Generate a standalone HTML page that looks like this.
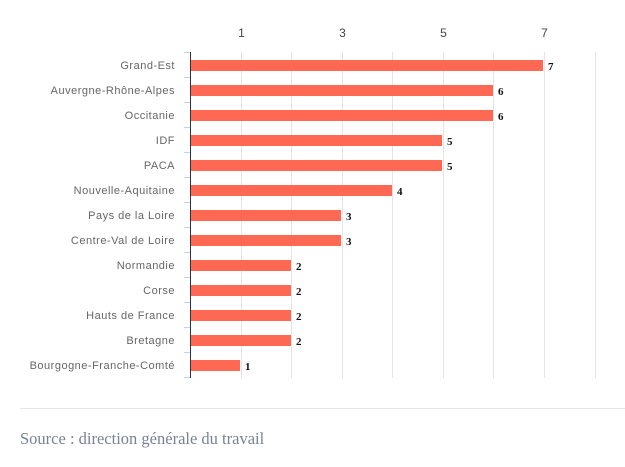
<!DOCTYPE html>
<html><head><meta charset="utf-8"><style>
html,body{margin:0;padding:0;background:#fff;width:625px;height:467px;overflow:hidden}
svg{display:block}
.l{font-family:"Liberation Sans",sans-serif;font-size:11px;fill:#666;letter-spacing:0.5px}
.t{font-family:"Liberation Sans",sans-serif;font-size:12px;fill:#444}
.v{font-family:"Liberation Serif",serif;font-size:11px;font-weight:bold;fill:#111}
</style></head><body>
<svg width="625" height="467" xmlns="http://www.w3.org/2000/svg">
<g stroke="#e4e4e4" stroke-width="1">
<line x1="241.5" y1="52" x2="241.5" y2="378"/><line x1="291.5" y1="52" x2="291.5" y2="378"/>
<line x1="342.5" y1="52" x2="342.5" y2="378"/><line x1="392.5" y1="52" x2="392.5" y2="378"/>
<line x1="443.5" y1="52" x2="443.5" y2="378"/><line x1="493.5" y1="52" x2="493.5" y2="378"/>
<line x1="544.5" y1="52" x2="544.5" y2="378"/><line x1="595.5" y1="52" x2="595.5" y2="378"/>
</g>
<g text-anchor="middle" class="t">
<text x="241.5" y="37">1</text><text x="342.5" y="37">3</text><text x="443.5" y="37">5</text><text x="544.5" y="37">7</text>
</g>
<g stroke="#c5d3e8" stroke-width="1">
<line x1="184" y1="52.5" x2="190" y2="52.5"/><line x1="184" y1="77.5" x2="190" y2="77.5"/><line x1="184" y1="102.5" x2="190" y2="102.5"/><line x1="184" y1="127.5" x2="190" y2="127.5"/><line x1="184" y1="152.5" x2="190" y2="152.5"/><line x1="184" y1="177.5" x2="190" y2="177.5"/><line x1="184" y1="202.5" x2="190" y2="202.5"/><line x1="184" y1="227.5" x2="190" y2="227.5"/><line x1="184" y1="252.5" x2="190" y2="252.5"/><line x1="184" y1="277.5" x2="190" y2="277.5"/><line x1="184" y1="302.5" x2="190" y2="302.5"/><line x1="184" y1="327.5" x2="190" y2="327.5"/><line x1="184" y1="352.5" x2="190" y2="352.5"/><line x1="184" y1="377.5" x2="190" y2="377.5"/>
</g>
<g fill="#ff6852">
<rect x="191" y="60" width="352" height="11"/>
<rect x="191" y="85" width="302" height="11"/>
<rect x="191" y="110" width="302" height="11"/>
<rect x="191" y="135" width="251" height="11"/>
<rect x="191" y="160" width="251" height="11"/>
<rect x="191" y="185" width="201" height="11"/>
<rect x="191" y="210" width="150" height="11"/>
<rect x="191" y="235" width="150" height="11"/>
<rect x="191" y="260" width="100" height="11"/>
<rect x="191" y="285" width="100" height="11"/>
<rect x="191" y="310" width="100" height="11"/>
<rect x="191" y="335" width="100" height="11"/>
<rect x="191" y="360" width="49" height="11"/>
</g>
<line x1="190.5" y1="52" x2="190.5" y2="378" stroke="#2a3542" stroke-width="1"/>
<g class="v">
<text x="548" y="70">7</text><text x="498" y="95">6</text><text x="498" y="120">6</text><text x="447" y="145">5</text><text x="447" y="170">5</text><text x="397" y="195">4</text><text x="346" y="220">3</text><text x="346" y="245">3</text><text x="296" y="270">2</text><text x="296" y="295">2</text><text x="296" y="320">2</text><text x="296" y="345">2</text><text x="245" y="370">1</text>
</g>
<g class="l" text-anchor="end">
<text x="175" y="69">Grand-Est</text>
<text x="175" y="94">Auvergne-Rhône-Alpes</text>
<text x="175" y="119">Occitanie</text>
<text x="175" y="144">IDF</text>
<text x="175" y="169">PACA</text>
<text x="175" y="194">Nouvelle-Aquitaine</text>
<text x="175" y="219">Pays de la Loire</text>
<text x="175" y="244">Centre-Val de Loire</text>
<text x="175" y="269">Normandie</text>
<text x="175" y="294">Corse</text>
<text x="175" y="319">Hauts de France</text>
<text x="175" y="344">Bretagne</text>
<text x="175" y="369">Bourgogne-Franche-Comté</text>
</g>
<line x1="20" y1="408.5" x2="625" y2="408.5" stroke="#e6e6e6" stroke-width="1"/>
<text x="20" y="444" font-family="Liberation Serif, serif" font-size="16.5" fill="#7a8196">Source : direction générale du travail</text>
</svg>
</body></html>
